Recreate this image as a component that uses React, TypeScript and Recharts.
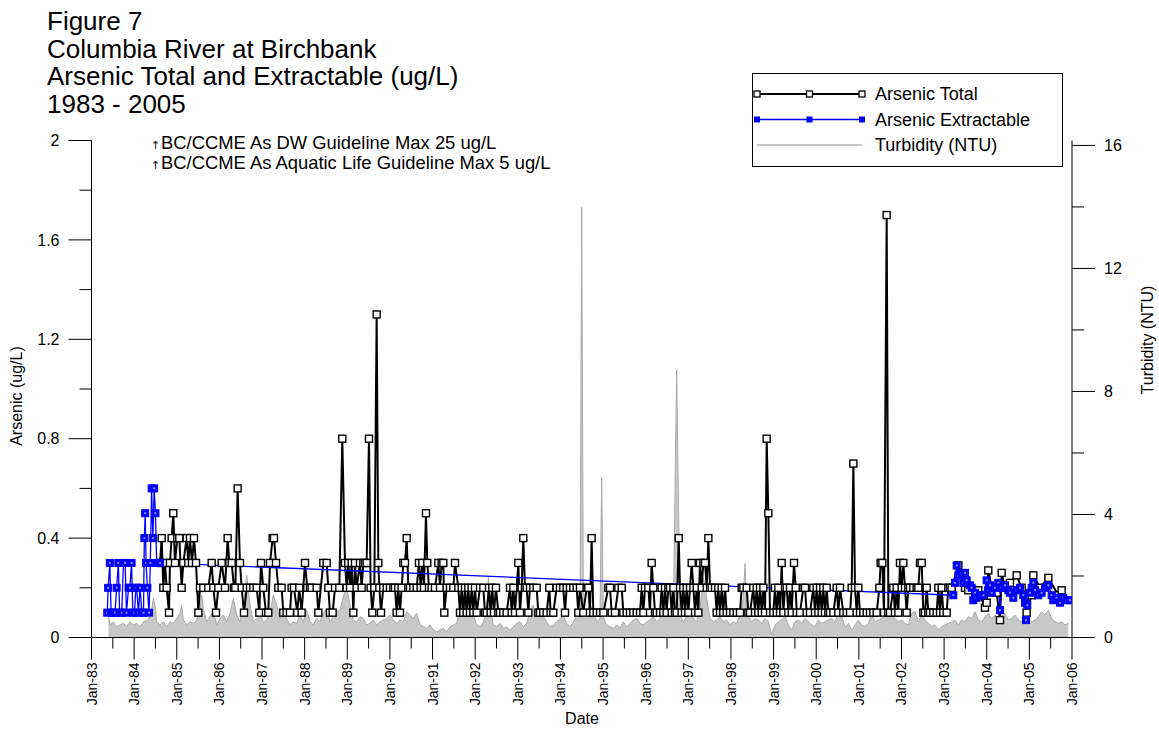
import React from "react";
import { ComposedChart, Line, Area, XAxis, YAxis } from "recharts";

const years = [
  1983, 1984, 1985, 1986, 1987, 1988, 1989, 1990, 1991, 1992, 1993, 1994,
  1995, 1996, 1997, 1998, 1999, 2000, 2001, 2002, 2003, 2004, 2005, 2006,
];
const yearLabels = [
  "Jan-83", "Jan-84", "Jan-85", "Jan-86", "Jan-87", "Jan-88", "Jan-89", "Jan-90",
  "Jan-91", "Jan-92", "Jan-93", "Jan-94", "Jan-95", "Jan-96", "Jan-97", "Jan-98",
  "Jan-99", "Jan-00", "Jan-01", "Jan-02", "Jan-03", "Jan-04", "Jan-05", "Jan-06",
];
const leftTicks = [0, 0.2, 0.4, 0.6, 0.8, 1, 1.2, 1.4, 1.6, 1.8, 2];
const leftLabels = ["0", "", "0.4", "", "0.8", "", "1.2", "", "1.6", "", "2"];
const rightTicks = [0, 2, 4, 6, 8, 10, 12, 14, 16];
const rightLabels = ["0", "", "4", "", "8", "", "12", "", "16"];

// [decimal year, ug/L]
const arsenicTotal: [number, number][] = [
  [1984.607, 0.3], [1984.646, 0.4], [1984.685, 0.2], [1984.724, 0.3], [1984.763, 0.2], [1984.818, 0.1],
  [1984.841, 0.3], [1984.88, 0.4], [1984.919, 0.5], [1984.958, 0.3], [1985.013, 0.4], [1985.06, 0.4],
  [1985.115, 0.2], [1985.154, 0.3], [1985.232, 0.4], [1985.271, 0.3], [1985.31, 0.4], [1985.357, 0.3],
  [1985.404, 0.4], [1985.451, 0.3], [1985.506, 0.1], [1985.545, 0.2], [1985.623, 0.2], [1985.74, 0.2],
  [1985.819, 0.3], [1985.858, 0.2], [1985.92, 0.1], [1985.975, 0.2], [1986.053, 0.3], [1986.131, 0.2],
  [1986.194, 0.4], [1986.233, 0.3], [1986.288, 0.3], [1986.342, 0.2], [1986.374, 0.2], [1986.428, 0.6],
  [1986.483, 0.3], [1986.522, 0.2], [1986.577, 0.1], [1986.64, 0.2], [1986.718, 0.2], [1986.796, 0.2],
  [1986.874, 0.2], [1986.937, 0.1], [1986.976, 0.3], [1987.03, 0.2], [1987.093, 0.1], [1987.147, 0.1],
  [1987.187, 0.3], [1987.249, 0.4], [1987.281, 0.4], [1987.328, 0.3], [1987.382, 0.2], [1987.46, 0.2],
  [1987.499, 0.1], [1987.577, 0.1], [1987.655, 0.1], [1987.694, 0.2], [1987.749, 0.2], [1987.827, 0.1],
  [1987.874, 0.2], [1987.929, 0.1], [1988.008, 0.3], [1988.062, 0.2], [1988.125, 0.2], [1988.164, 0.2],
  [1988.281, 0.2], [1988.321, 0.1], [1988.438, 0.3], [1988.516, 0.3], [1988.555, 0.2], [1988.594, 0.1],
  [1988.657, 0.1], [1988.712, 0.2], [1988.813, 0.2], [1988.883, 0.8], [1988.946, 0.3], [1988.985, 0.2],
  [1989.024, 0.3], [1989.064, 0.2], [1989.103, 0.3], [1989.142, 0.1], [1989.181, 0.3], [1989.22, 0.2],
  [1989.298, 0.3], [1989.337, 0.2], [1989.376, 0.3], [1989.415, 0.3], [1989.454, 0.3], [1989.509, 0.8],
  [1989.548, 0.2], [1989.587, 0.1], [1989.634, 0.2], [1989.689, 1.3], [1989.728, 0.3], [1989.752, 0.2],
  [1989.791, 0.1], [1989.845, 0.2], [1989.924, 0.2], [1990.002, 0.2], [1990.08, 0.2], [1990.119, 0.2],
  [1990.158, 0.1], [1990.197, 0.2], [1990.236, 0.1], [1990.275, 0.2], [1990.315, 0.3], [1990.354, 0.3],
  [1990.393, 0.4], [1990.432, 0.2], [1990.471, 0.2], [1990.549, 0.2], [1990.627, 0.2], [1990.682, 0.3],
  [1990.721, 0.2], [1990.76, 0.3], [1990.799, 0.2], [1990.846, 0.5], [1990.877, 0.3], [1990.917, 0.2],
  [1990.979, 0.2], [1991.057, 0.2], [1991.136, 0.3], [1991.175, 0.2], [1991.214, 0.3], [1991.253, 0.3],
  [1991.276, 0.1], [1991.331, 0.2], [1991.409, 0.2], [1991.487, 0.2], [1991.527, 0.3], [1991.605, 0.2],
  [1991.644, 0.1], [1991.683, 0.2], [1991.722, 0.1], [1991.761, 0.2], [1991.8, 0.1], [1991.839, 0.2],
  [1991.878, 0.1], [1991.917, 0.2], [1991.957, 0.1], [1991.996, 0.2], [1992.035, 0.1], [1992.113, 0.2],
  [1992.191, 0.2], [1992.23, 0.1], [1992.269, 0.1], [1992.324, 0.2], [1992.363, 0.1], [1992.402, 0.2],
  [1992.441, 0.1], [1992.488, 0.2], [1992.543, 0.1], [1992.582, 0.1], [1992.66, 0.1], [1992.738, 0.1],
  [1992.817, 0.2], [1992.856, 0.1], [1992.895, 0.2], [1992.934, 0.1], [1993.012, 0.3], [1993.051, 0.1],
  [1993.09, 0.2], [1993.129, 0.4], [1993.168, 0.2], [1993.207, 0.2], [1993.247, 0.1], [1993.286, 0.2],
  [1993.364, 0.2], [1993.442, 0.2], [1993.481, 0.1], [1993.52, 0.1], [1993.598, 0.1], [1993.677, 0.1],
  [1993.739, 0.2], [1993.77, 0.1], [1993.833, 0.1], [1993.911, 0.2], [1993.989, 0.2], [1994.067, 0.2],
  [1994.107, 0.1], [1994.146, 0.2], [1994.224, 0.2], [1994.302, 0.2], [1994.38, 0.2], [1994.419, 0.1],
  [1994.458, 0.2], [1994.537, 0.1], [1994.615, 0.2], [1994.654, 0.2], [1994.693, 0.1], [1994.732, 0.4],
  [1994.771, 0.1], [1994.85, 0.1], [1994.929, 0.1], [1995.007, 0.1], [1995.124, 0.2], [1995.163, 0.2],
  [1995.202, 0.1], [1995.28, 0.1], [1995.359, 0.2], [1995.437, 0.2], [1995.476, 0.1], [1995.554, 0.1],
  [1995.632, 0.1], [1995.71, 0.1], [1995.789, 0.1], [1995.867, 0.1], [1995.906, 0.2], [1995.945, 0.1],
  [1995.984, 0.2], [1996.062, 0.2], [1996.101, 0.1], [1996.14, 0.3], [1996.179, 0.2], [1996.219, 0.1],
  [1996.258, 0.1], [1996.336, 0.1], [1996.375, 0.2], [1996.414, 0.1], [1996.453, 0.2], [1996.492, 0.1],
  [1996.531, 0.2], [1996.57, 0.2], [1996.61, 0.1], [1996.649, 0.2], [1996.688, 0.1], [1996.727, 0.1],
  [1996.774, 0.4], [1996.805, 0.2], [1996.844, 0.1], [1996.883, 0.2], [1996.922, 0.1], [1996.961, 0.2],
  [1997.001, 0.1], [1997.04, 0.2], [1997.079, 0.3], [1997.118, 0.2], [1997.157, 0.1], [1997.196, 0.2],
  [1997.235, 0.1], [1997.274, 0.3], [1997.313, 0.2], [1997.352, 0.3], [1997.392, 0.3], [1997.431, 0.2],
  [1997.47, 0.4], [1997.509, 0.2], [1997.548, 0.2], [1997.626, 0.2], [1997.665, 0.1], [1997.704, 0.2],
  [1997.743, 0.1], [1997.782, 0.2], [1997.821, 0.1], [1997.861, 0.2], [1997.9, 0.1], [1997.978, 0.1],
  [1998.056, 0.1], [1998.134, 0.1], [1998.212, 0.1], [1998.252, 0.2], [1998.291, 0.2], [1998.369, 0.2],
  [1998.408, 0.1], [1998.447, 0.1], [1998.525, 0.2], [1998.564, 0.1], [1998.603, 0.2], [1998.643, 0.1],
  [1998.682, 0.2], [1998.721, 0.1], [1998.76, 0.2], [1998.799, 0.1], [1998.838, 0.8], [1998.877, 0.5],
  [1998.916, 0.1], [1998.994, 0.1], [1999.033, 0.2], [1999.072, 0.1], [1999.111, 0.2], [1999.151, 0.1],
  [1999.19, 0.3], [1999.229, 0.1], [1999.268, 0.2], [1999.307, 0.2], [1999.346, 0.1], [1999.385, 0.2],
  [1999.424, 0.1], [1999.479, 0.3], [1999.518, 0.2], [1999.542, 0.1], [1999.62, 0.1], [1999.698, 0.2],
  [1999.737, 0.2], [1999.776, 0.1], [1999.854, 0.1], [1999.933, 0.2], [1999.972, 0.1], [2000.011, 0.2],
  [2000.05, 0.1], [2000.089, 0.2], [2000.128, 0.1], [2000.167, 0.2], [2000.206, 0.1], [2000.245, 0.2],
  [2000.284, 0.1], [2000.324, 0.1], [2000.402, 0.1], [2000.48, 0.2], [2000.519, 0.1], [2000.558, 0.2],
  [2000.636, 0.1], [2000.714, 0.1], [2000.793, 0.1], [2000.832, 0.2], [2000.871, 0.7], [2000.91, 0.2],
  [2000.949, 0.1], [2000.988, 0.2], [2001.027, 0.1], [2001.105, 0.1], [2001.184, 0.1], [2001.262, 0.1],
  [2001.34, 0.1], [2001.418, 0.1], [2001.481, 0.2], [2001.512, 0.3], [2001.551, 0.3], [2001.59, 0.1],
  [2001.653, 1.7], [2001.692, 0.1], [2001.731, 0.1], [2001.809, 0.2], [2001.848, 0.1], [2001.887, 0.2],
  [2001.926, 0.1], [2001.965, 0.3], [2002.004, 0.2], [2002.044, 0.3], [2002.083, 0.2], [2002.122, 0.1],
  [2002.161, 0.2], [2002.2, 0.2], [2002.278, 0.2], [2002.356, 0.2], [2002.395, 0.2], [2002.435, 0.3],
  [2002.474, 0.3], [2002.513, 0.1], [2002.552, 0.1], [2002.591, 0.2], [2002.63, 0.1], [2002.669, 0.1],
  [2002.747, 0.1], [2002.825, 0.1], [2002.865, 0.2], [2002.904, 0.1], [2002.943, 0.2], [2002.982, 0.1],
  [2003.06, 0.1], [2003.099, 0.2], [2003.138, 0.2], [2003.177, 0.2], [2003.334, 0.29], [2003.49, 0.2],
  [2003.568, 0.19], [2003.803, 0.19], [2003.959, 0.12], [2003.998, 0.14], [2004.037, 0.27], [2004.116, 0.2],
  [2004.233, 0.18], [2004.311, 0.07], [2004.35, 0.26], [2004.428, 0.2], [2004.545, 0.22], [2004.702, 0.25],
  [2004.819, 0.2], [2004.936, 0.1], [2005.054, 0.17], [2005.093, 0.25], [2005.249, 0.2], [2005.445, 0.24],
  [2005.679, 0.17], [2005.757, 0.19],
];

const arsenicExtractable: [number, number][] = [
  [1983.37, 0.1], [1983.39, 0.2], [1983.43, 0.3], [1983.46, 0.1], [1983.5, 0.1], [1983.55, 0.1],
  [1983.59, 0.2], [1983.63, 0.3], [1983.66, 0.1], [1983.71, 0.1], [1983.75, 0.3], [1983.79, 0.3],
  [1983.82, 0.1], [1983.87, 0.2], [1983.9, 0.2], [1983.94, 0.3], [1983.97, 0.1], [1984.01, 0.1],
  [1984.04, 0.2], [1984.06, 0.2], [1984.1, 0.1], [1984.14, 0.2], [1984.18, 0.1], [1984.22, 0.1],
  [1984.24, 0.4], [1984.26, 0.5], [1984.28, 0.3], [1984.31, 0.2], [1984.35, 0.1], [1984.38, 0.3],
  [1984.41, 0.6], [1984.44, 0.4], [1984.47, 0.6], [1984.5, 0.5], [1984.53, 0.3], [1984.57, 0.3],
  [1984.61, 0.3],
  [2003.216, 0.17], [2003.255, 0.22], [2003.295, 0.29], [2003.334, 0.25], [2003.412, 0.26], [2003.451, 0.22],
  [2003.49, 0.26], [2003.529, 0.23], [2003.607, 0.21], [2003.646, 0.2], [2003.686, 0.15], [2003.725, 0.18],
  [2003.764, 0.16], [2003.842, 0.17], [2003.92, 0.17], [2003.998, 0.23], [2004.037, 0.19], [2004.077, 0.21],
  [2004.116, 0.18], [2004.194, 0.2], [2004.272, 0.22], [2004.311, 0.11], [2004.35, 0.2], [2004.428, 0.21],
  [2004.507, 0.19], [2004.545, 0.18], [2004.624, 0.16], [2004.702, 0.19], [2004.78, 0.2], [2004.858, 0.17],
  [2004.897, 0.14], [2004.921, 0.07], [2004.952, 0.13], [2005.015, 0.18], [2005.054, 0.2], [2005.093, 0.22],
  [2005.132, 0.19], [2005.21, 0.17], [2005.288, 0.18], [2005.366, 0.2], [2005.445, 0.21], [2005.523, 0.17],
  [2005.562, 0.15], [2005.64, 0.16], [2005.718, 0.14], [2005.797, 0.16], [2005.875, 0.15], [2005.953, 0.15],
];

// [decimal year, NTU]
const turbidity: [number, number][] = [
  [1983.395, 0.73], [1983.434, 0.41], [1983.512, 0.51], [1983.59, 0.35], [1983.668, 0.41], [1983.747, 0.46],
  [1983.825, 0.35], [1983.903, 0.51], [1983.981, 0.41], [1984.059, 0.46], [1984.138, 0.35], [1984.216, 0.51],
  [1984.333, 0.57], [1984.411, 0.89], [1984.45, 1.27], [1984.489, 1.06], [1984.529, 0.51], [1984.607, 0.41],
  [1984.685, 0.51], [1984.763, 0.35], [1984.841, 0.51], [1984.919, 0.46], [1984.998, 0.62], [1985.076, 0.79],
  [1985.115, 1.06], [1985.154, 0.57], [1985.232, 0.41], [1985.31, 0.51], [1985.389, 0.46], [1985.467, 0.57],
  [1985.545, 0.89], [1985.584, 1.38], [1985.623, 0.95], [1985.701, 0.51], [1985.78, 0.68], [1985.858, 0.84],
  [1985.936, 0.41], [1986.014, 0.62], [1986.092, 0.73], [1986.17, 0.51], [1986.249, 0.79], [1986.327, 1.27],
  [1986.405, 0.73], [1986.483, 0.51], [1986.561, 0.95], [1986.64, 2.03], [1986.718, 1.06], [1986.796, 0.51],
  [1986.874, 0.62], [1986.952, 0.73], [1987.03, 0.51], [1987.109, 0.57], [1987.187, 0.79], [1987.265, 1.38],
  [1987.343, 1.06], [1987.421, 0.62], [1987.5, 1.06], [1987.578, 0.62], [1987.656, 0.41], [1987.734, 0.51],
  [1987.812, 0.46], [1987.891, 0.73], [1987.969, 0.51], [1988.047, 0.89], [1988.125, 0.51], [1988.203, 0.41],
  [1988.282, 0.62], [1988.36, 0.51], [1988.438, 0.79], [1988.516, 0.95], [1988.594, 0.51], [1988.673, 0.68],
  [1988.751, 0.84], [1988.829, 0.89], [1988.907, 1.33], [1988.985, 1.6], [1989.063, 1.06], [1989.141, 0.57],
  [1989.22, 0.51], [1989.298, 0.68], [1989.376, 0.62], [1989.454, 0.41], [1989.532, 0.46], [1989.611, 0.57],
  [1989.689, 0.41], [1989.767, 0.51], [1989.845, 0.57], [1989.923, 0.62], [1990.001, 0.73], [1990.08, 0.57],
  [1990.158, 0.46], [1990.236, 0.57], [1990.314, 0.51], [1990.392, 0.84], [1990.471, 0.73], [1990.549, 0.62],
  [1990.627, 0.79], [1990.706, 0.41], [1990.784, 0.35], [1990.862, 0.3], [1990.941, 0.41], [1991.019, 0.24],
  [1991.097, 0.19], [1991.175, 0.24], [1991.253, 0.3], [1991.331, 0.19], [1991.41, 0.35], [1991.488, 0.41],
  [1991.566, 0.46], [1991.605, 0.73], [1991.644, 1.17], [1991.722, 1.11], [1991.801, 1.06], [1991.879, 1.06],
  [1991.957, 0.73], [1992.035, 0.41], [1992.113, 0.35], [1992.192, 0.51], [1992.27, 0.84], [1992.309, 1.98],
  [1992.348, 0.95], [1992.426, 0.41], [1992.504, 0.35], [1992.582, 0.46], [1992.661, 0.3], [1992.739, 0.35],
  [1992.817, 0.24], [1992.895, 0.35], [1992.973, 0.46], [1993.052, 0.51], [1993.13, 0.35], [1993.208, 0.46],
  [1993.286, 0.84], [1993.364, 1.06], [1993.403, 0.73], [1993.442, 0.95], [1993.521, 0.84], [1993.599, 0.68],
  [1993.677, 0.51], [1993.755, 0.35], [1993.833, 0.41], [1993.912, 0.51], [1993.99, 0.62], [1994.068, 0.68],
  [1994.146, 0.46], [1994.224, 0.35], [1994.303, 0.51], [1994.381, 0.73], [1994.459, 0.84], [1994.498, 14.0],
  [1994.537, 0.95], [1994.615, 0.84], [1994.693, 1.06], [1994.772, 0.89], [1994.85, 0.51], [1994.928, 0.62],
  [1994.967, 5.2], [1995.006, 0.68], [1995.084, 0.41], [1995.163, 0.35], [1995.241, 0.3], [1995.319, 0.41],
  [1995.397, 0.3], [1995.475, 0.51], [1995.554, 0.35], [1995.632, 0.46], [1995.71, 0.57], [1995.788, 0.62],
  [1995.866, 0.46], [1995.944, 0.41], [1996.023, 0.51], [1996.101, 0.57], [1996.179, 0.68], [1996.257, 0.51],
  [1996.335, 0.62], [1996.414, 0.89], [1996.492, 0.79], [1996.57, 0.68], [1996.648, 0.73], [1996.726, 8.7],
  [1996.804, 0.73], [1996.883, 0.51], [1996.961, 0.68], [1997.039, 0.84], [1997.117, 0.62], [1997.195, 0.51],
  [1997.274, 0.95], [1997.352, 1.92], [1997.391, 1.71], [1997.43, 1.27], [1997.508, 0.62], [1997.586, 0.51],
  [1997.664, 0.57], [1997.743, 0.68], [1997.821, 0.51], [1997.899, 0.57], [1997.977, 0.41], [1998.055, 0.51],
  [1998.134, 0.46], [1998.212, 0.73], [1998.29, 1.27], [1998.329, 2.4], [1998.368, 1.06], [1998.408, 0.68],
  [1998.486, 0.51], [1998.565, 0.62], [1998.643, 0.57], [1998.721, 0.46], [1998.799, 0.62], [1998.877, 0.51],
  [1998.955, 0.08], [1999.034, 0.41], [1999.112, 0.51], [1999.19, 0.57], [1999.268, 0.68], [1999.346, 0.41],
  [1999.425, 0.24], [1999.503, 0.51], [1999.581, 0.57], [1999.659, 0.46], [1999.737, 0.62], [1999.816, 0.51],
  [1999.894, 0.41], [1999.972, 0.35], [2000.05, 0.57], [2000.128, 0.46], [2000.207, 0.51], [2000.285, 0.57],
  [2000.363, 0.62], [2000.441, 0.51], [2000.519, 0.79], [2000.597, 0.68], [2000.676, 0.35], [2000.754, 0.46],
  [2000.832, 0.24], [2000.91, 0.41], [2000.988, 0.57], [2001.067, 0.41], [2001.145, 0.35], [2001.223, 0.46],
  [2001.301, 0.73], [2001.379, 0.51], [2001.458, 0.57], [2001.536, 0.62], [2001.614, 0.73], [2001.692, 0.84],
  [2001.77, 0.79], [2001.849, 0.62], [2001.927, 0.51], [2002.005, 0.57], [2002.083, 0.46], [2002.161, 0.41],
  [2002.239, 0.79], [2002.318, 0.84], [2002.396, 0.51], [2002.474, 0.73], [2002.552, 0.57], [2002.63, 0.46],
  [2002.709, 0.35], [2002.787, 0.41], [2002.865, 0.24], [2002.943, 0.35], [2003.021, 0.41], [2003.099, 0.46],
  [2003.178, 0.51], [2003.256, 0.57], [2003.334, 0.41], [2003.412, 0.57], [2003.49, 0.51], [2003.569, 0.68],
  [2003.647, 0.62], [2003.725, 0.84], [2003.803, 0.57], [2003.881, 0.51], [2003.96, 0.68], [2004.038, 0.79],
  [2004.116, 0.62], [2004.194, 0.73], [2004.272, 0.51], [2004.351, 0.68], [2004.429, 0.79], [2004.507, 0.57],
  [2004.585, 0.62], [2004.663, 0.73], [2004.741, 0.57], [2004.82, 0.51], [2004.898, 0.68], [2004.976, 0.62],
  [2005.054, 0.51], [2005.132, 0.57], [2005.211, 0.68], [2005.289, 0.84], [2005.367, 0.73], [2005.445, 0.89],
  [2005.523, 0.62], [2005.602, 0.51], [2005.68, 0.46], [2005.758, 0.51], [2005.836, 0.41], [2005.914, 0.46],
];

const toRows = (pts: [number, number][]) => pts.map(([x, v]) => ({ x, v }));
const totalRows = toRows(arsenicTotal);
const extractRows = toRows(arsenicExtractable);
const turbRows = toRows(turbidity);

const xTicks = years.flatMap((y) => (y < 2006 ? [y, y + 0.5] : [y]));

const FONT = "'Liberation Sans', Arial, Helvetica, sans-serif";
const W = 1159;
const H = 731;

const OpenSquare = (props: any) => {
  const { cx, cy, index } = props;
  if (cx == null || cy == null) return <g key={`t-${index}`} />;
  return (
    <rect key={`t-${index}`} x={cx - 3.5} y={cy - 3.5} width={7} height={7}
      fill="#fff" stroke="#000" strokeWidth={1.4} />
  );
};

const BlueSquare = (props: any) => {
  const { cx, cy, index } = props;
  if (cx == null || cy == null) return <g key={`e-${index}`} />;
  return (
    <g key={`e-${index}`}>
      <rect x={cx - 3.5} y={cy - 3.5} width={7} height={7} fill="#0000ff" stroke="#0000ee" strokeWidth={1} />
      <rect x={cx - 1} y={cy - 1} width={2} height={2} fill="#8c8cff" />
    </g>
  );
};

const XTick = (props: any) => {
  const { x, y, payload } = props;
  const idx = years.indexOf(payload.value);
  const major = idx >= 0;
  return (
    <g>
      <line x1={x} x2={x} y1={y} y2={y + (major ? 22 : 11)} stroke="#000" strokeWidth={1} />
      {major && (
        <text transform={`translate(${x + 5},${y + 25}) rotate(-90)`} textAnchor="end"
          fontSize={14} fontFamily={FONT} fill="#000">
          {yearLabels[idx]}
        </text>
      )}
    </g>
  );
};

const LeftTick = (props: any) => {
  const { x, y, payload } = props;
  const idx = leftTicks.indexOf(payload.value);
  const label = idx >= 0 ? leftLabels[idx] : "";
  const len = label ? 23 : 12;
  return (
    <g>
      <line x1={x - len} x2={x} y1={y} y2={y} stroke="#000" strokeWidth={1} />
      {label && (
        <text x={x - 32} y={y} dy="0.35em" textAnchor="end" fontSize={16} fontFamily={FONT} fill="#000">
          {label}
        </text>
      )}
    </g>
  );
};

const RightTick = (props: any) => {
  const { x, y, payload } = props;
  const idx = rightTicks.indexOf(payload.value);
  const label = idx >= 0 ? rightLabels[idx] : "";
  const len = label ? 23 : 12;
  return (
    <g>
      <line x1={x} x2={x + len} y1={y} y2={y} stroke="#000" strokeWidth={1} />
      {label && (
        <text x={x + 32} y={y} dy="0.35em" textAnchor="start" fontSize={16} fontFamily={FONT} fill="#000">
          {label}
        </text>
      )}
    </g>
  );
};

const titleLines = [
  "Figure 7",
  "Columbia River at Birchbank",
  "Arsenic Total and Extractable (ug/L)",
  "1983 - 2005",
];
const guidelineNotes = [
  "BC/CCME As DW Guideline Max 25 ug/L",
  "BC/CCME As Aquatic Life Guideline Max 5 ug/L",
];
const legendRows = [
  { name: "Arsenic Total", kind: "total" },
  { name: "Arsenic Extractable", kind: "extract" },
  { name: "Turbidity (NTU)", kind: "turb" },
];

export default function App() {
  return (
    <div style={{ position: "absolute", left: 0, top: 0, width: W, height: H, background: "#fff" }}>
      <ComposedChart width={W} height={H} margin={{ top: 140.5, right: 0, bottom: 0, left: 0 }}>
        <XAxis dataKey="x" type="number" domain={[1983, 2006]} ticks={xTicks} interval={0}
          allowDataOverflow tick={<XTick />} tickLine={false} tickSize={0} tickMargin={0}
          height={93.5} axisLine={{ stroke: "#000" }} />
        <YAxis yAxisId="left" orientation="left" domain={[0, 2]} ticks={leftTicks} interval={0}
          allowDataOverflow width={91.5} tick={<LeftTick />} tickLine={false} tickSize={0} tickMargin={0}
          axisLine={{ stroke: "#000" }} />
        <YAxis yAxisId="right" orientation="right" domain={[0, 16.16]} ticks={rightTicks} interval={0}
          allowDataOverflow width={87} tick={<RightTick />} tickLine={false} tickSize={0} tickMargin={0}
          axisLine={{ stroke: "#000" }} />
        <Area yAxisId="right" data={turbRows} dataKey="v" type="linear" stroke="#a9a9a9" strokeWidth={1}
          fill="#c8c8c8" fillOpacity={1} dot={false} activeDot={false} isAnimationActive={false} />
        <Line yAxisId="left" data={totalRows} dataKey="v" type="linear" stroke="#000" strokeWidth={2}
          dot={OpenSquare} activeDot={false} isAnimationActive={false} />
        <Line yAxisId="left" data={extractRows} dataKey="v" type="linear" stroke="#0000ff" strokeWidth={1.3}
          dot={BlueSquare} activeDot={false} isAnimationActive={false} />
      </ComposedChart>

      <svg width={W} height={H} style={{ position: "absolute", left: 0, top: 0, pointerEvents: "none" }}
        fontFamily={FONT}>
        {titleLines.map((t, i) => (
          <text key={t} x={47} y={30 + i * 27.5} fontSize={26} fill="#000">{t}</text>
        ))}

        {guidelineNotes.map((t, i) => (
          <g key={t}>
            <text x={151} y={149 + i * 20} fontSize={11} fontFamily="'DejaVu Sans', sans-serif" fill="#000">
              ↑
            </text>
            <text x={161} y={149 + i * 20} fontSize={18.4} fill="#000">{t}</text>
          </g>
        ))}

        <text transform="translate(22,396) rotate(-90)" textAnchor="middle" fontSize={16} fill="#000">
          Arsenic (ug/L)
        </text>
        <text transform="translate(1153,340) rotate(-90)" textAnchor="middle" fontSize={16} fill="#000">
          Turbidity (NTU)
        </text>
        <text x={582} y={724} textAnchor="middle" fontSize={16} fill="#000">Date</text>

        <rect x={752.5} y={73.5} width={310} height={93} fill="#fff" stroke="#000" strokeWidth={1} />
        {legendRows.map((r, i) => {
          const y = 94 + i * 25.5;
          return (
            <g key={r.name}>
              {r.kind === "turb" ? (
                <line x1={757} x2={862} y1={y} y2={y} stroke="#c8c8c8" strokeWidth={2} />
              ) : (
                <g>
                  <line x1={757} x2={862} y1={y} y2={y} stroke={r.kind === "total" ? "#000" : "#0000ff"}
                    strokeWidth={r.kind === "total" ? 2 : 1.3} />
                  {[757, 809.5, 862].map((cx) =>
                    r.kind === "total" ? (
                      <rect key={cx} x={cx - 3} y={y - 3} width={6} height={6} fill="#fff" stroke="#000" strokeWidth={1.3} />
                    ) : (
                      <rect key={cx} x={cx - 3} y={y - 3} width={6} height={6} fill="#0000ff" />
                    )
                  )}
                </g>
              )}
              <text x={875} y={y} dy="0.35em" fontSize={18} fill="#000">{r.name}</text>
            </g>
          );
        })}
      </svg>
    </div>
  );
}
